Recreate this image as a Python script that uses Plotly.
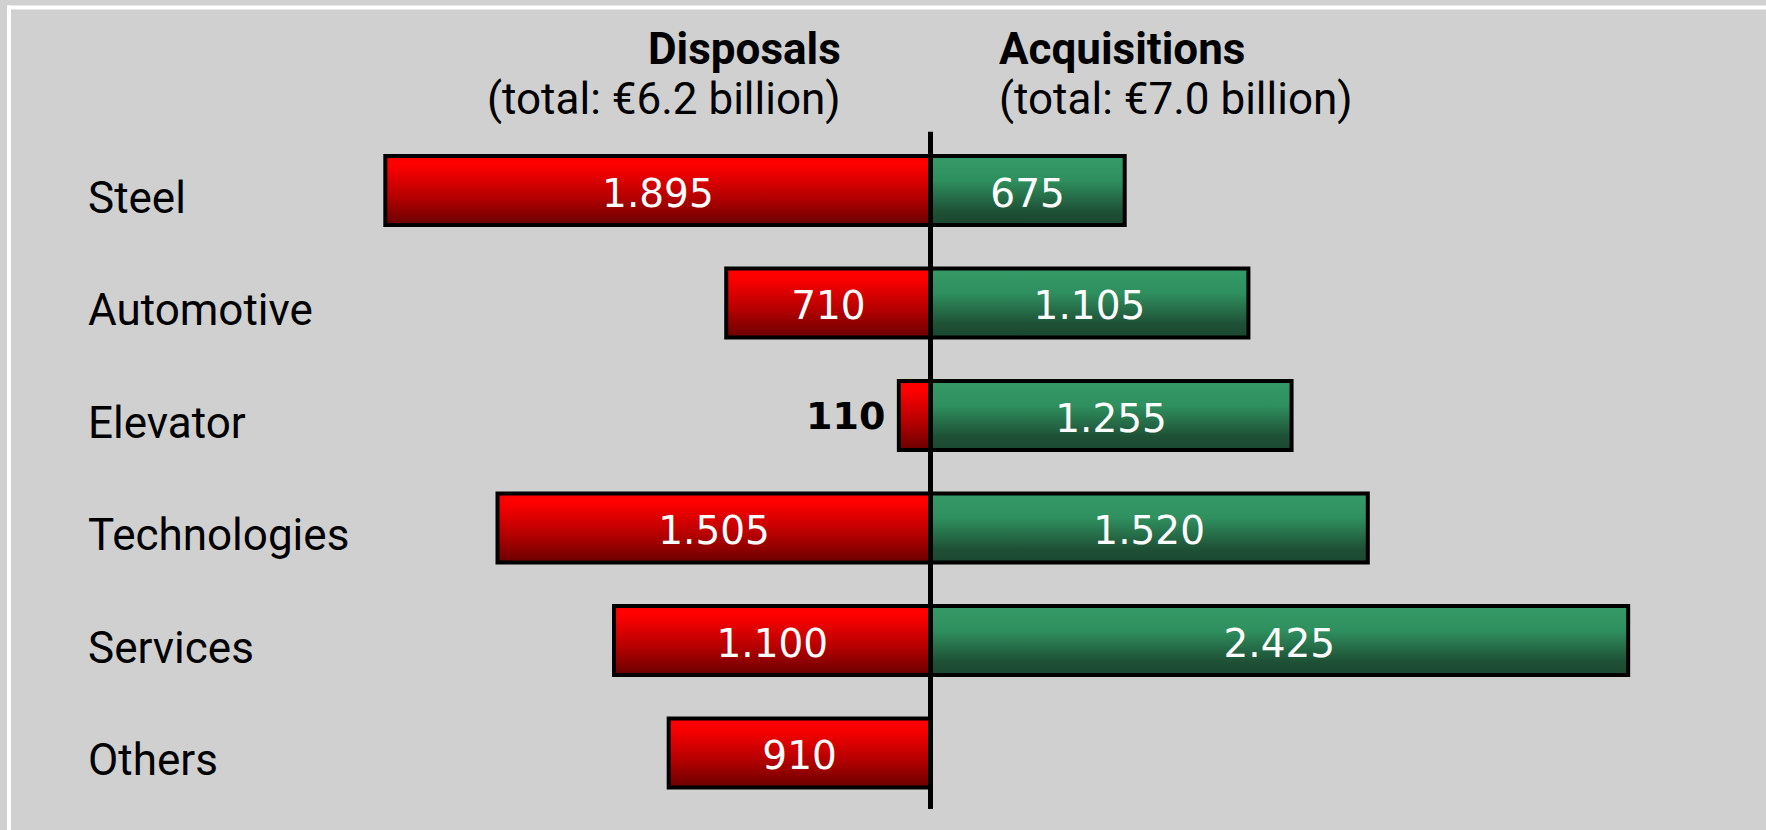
import plotly.graph_objects as go

# ---------------- data ----------------
categories = ["Steel", "Automotive", "Elevator", "Technologies", "Services", "Others"]
disposals = [1895, 710, 110, 1505, 1100, 910]
acquisitions = [675, 1105, 1255, 1520, 2425, None]
header_left = ["Disposals", "(total: €6.2 billion)"]
header_right = ["Acquisitions", "(total: €7.0 billion)"]

# ---------------- layout constants ----------------
W, H = 1766, 830
BG = "#d0d0d0"
X0_PX = 930.5          # pixel position of the zero line
PX_PER_UNIT = 0.2877   # pixels per € million
ROW0_PX = 190.5        # pixel centre of first row
ROW_PX = 112.5         # row spacing in pixels
HALF = 0.307           # half bar thickness (in row units)
TEXT_DY = 6.5 / ROW_PX # small downward nudge of in-bar labels

x_range = [-X0_PX / PX_PER_UNIT, (W - X0_PX) / PX_PER_UNIT]
y_range = [(H - ROW0_PX) / ROW_PX, -ROW0_PX / ROW_PX]

red_scale = [[0, "#ff0000"], [0.15, "#fc0000"], [0.6, "#b40000"], [1, "#6a0000"]]
green_scale = [[0, "#349b67"], [0.35, "#2f905f"], [0.8, "#1e5136"], [1, "#1b4630"]]

VAL_FONT = "DejaVu Sans"
TXT_FONT = "Roboto"


def fmt(v):
    return f"{v:,}".replace(",", ".")


fig = go.Figure()


def add_bar(x_end, i, scale):
    y0, y1 = i - HALF, i + HALF
    fig.add_trace(go.Scatter(
        x=[0, x_end, x_end, 0, 0], y=[y0, y0, y1, y1, y0],
        mode="lines", fill="toself",
        fillgradient=dict(type="vertical", colorscale=scale, start=y0, stop=y1),
        line=dict(color="black", width=4),
        hoverinfo="skip", showlegend=False,
    ))


for i, v in enumerate(disposals):
    if v:
        add_bar(-v, i, red_scale)
for i, v in enumerate(acquisitions):
    if v:
        add_bar(v, i, green_scale)

# value labels inside bars
OUTSIDE_LIMIT = 300
in_x, in_y, in_t = [], [], []
annotations = []
for i, v in enumerate(disposals):
    if not v:
        continue
    if v >= OUTSIDE_LIMIT:
        in_x.append(-v / 2); in_y.append(i + TEXT_DY); in_t.append(fmt(v))
    else:
        annotations.append(dict(
            x=-v, y=i, xref="x", yref="y", text="<b>" + fmt(v) + "</b>",
            showarrow=False, xanchor="right", yanchor="middle", xshift=-12,
            font=dict(family=VAL_FONT, size=38, color="black")))
for i, v in enumerate(acquisitions):
    if not v:
        continue
    in_x.append(v / 2); in_y.append(i + TEXT_DY); in_t.append(fmt(v))

fig.add_trace(go.Scatter(
    x=in_x, y=in_y, text=in_t, mode="text", textposition="middle center",
    textfont=dict(family=VAL_FONT, size=39, color="white"),
    hoverinfo="skip", showlegend=False,
))

# category labels
for i, c in enumerate(categories):
    annotations.append(dict(
        x=86 / W, y=i, xref="paper", yref="y", text=c, showarrow=False,
        xanchor="left", yanchor="middle", yshift=-7,
        font=dict(family=TXT_FONT, size=44, color="black")))

# headers
for k, (txt, ypx) in enumerate(zip(header_left, [49, 98.5])):
    annotations.append(dict(
        x=843 / W, y=1 - ypx / H, xref="paper", yref="paper",
        text=("<b>" + txt + "</b>") if k == 0 else txt, showarrow=False,
        xanchor="right", yanchor="middle",
        font=dict(family=TXT_FONT, size=44, color="black")))
for k, (txt, ypx) in enumerate(zip(header_right, [49, 98.5])):
    annotations.append(dict(
        x=997 / W, y=1 - ypx / H, xref="paper", yref="paper",
        text=("<b>" + txt + "</b>") if k == 0 else txt, showarrow=False,
        xanchor="left", yanchor="middle",
        font=dict(family=TXT_FONT, size=44, color="black")))

FRAME_X = 9 / W
FRAME_Y = 1 - 7.5 / H
shapes = [
    # zero line
    dict(type="line", xref="x", yref="y", x0=0, x1=0,
         y0=(131.7 - ROW0_PX) / ROW_PX, y1=(809 - ROW0_PX) / ROW_PX,
         line=dict(color="black", width=5), layer="above"),
    # white frame lines (top and left)
    dict(type="line", xref="paper", yref="paper",
         x0=FRAME_X - 2 / W, x1=1.0, y0=FRAME_Y, y1=FRAME_Y,
         line=dict(color="white", width=4), layer="below"),
    dict(type="line", xref="paper", yref="paper",
         x0=FRAME_X, x1=FRAME_X, y0=0.0, y1=FRAME_Y + 2 / H,
         line=dict(color="white", width=4), layer="below"),
]

fig.update_layout(
    width=W, height=H,
    margin=dict(l=0, r=0, t=0, b=0),
    paper_bgcolor=BG, plot_bgcolor=BG,
    showlegend=False,
    xaxis=dict(range=x_range, visible=False, fixedrange=True),
    yaxis=dict(range=y_range, visible=False, fixedrange=True),
    annotations=annotations,
    shapes=shapes,
)

post = ("document.body.style.margin='0';document.body.style.padding='0';"
        "document.documentElement.style.overflow='hidden';"
        "document.body.style.background='" + BG + "';")
fig.write_html("out.html", post_script=post, config=dict(displayModeBar=False))
